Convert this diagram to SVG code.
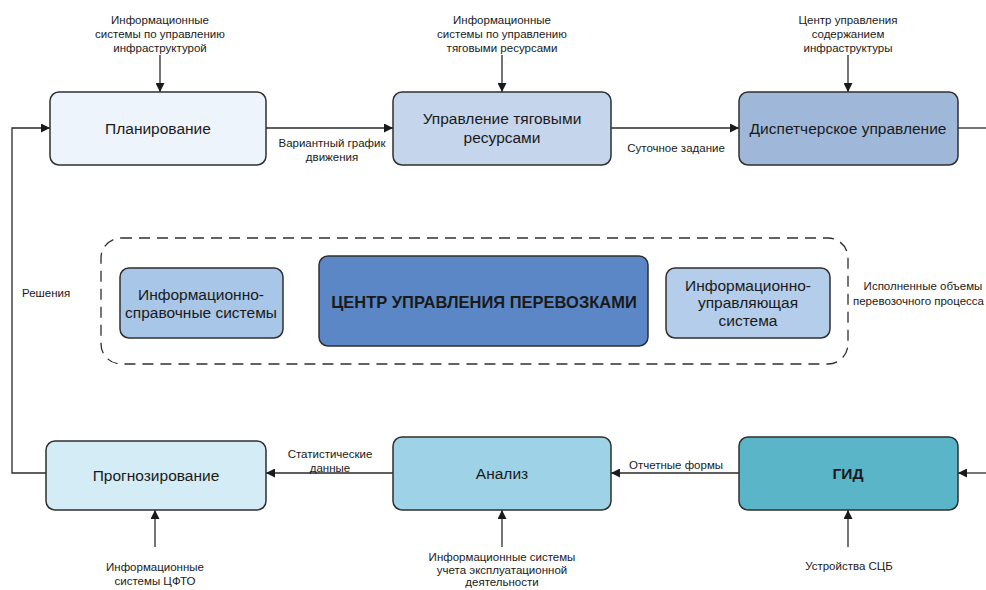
<svg xmlns="http://www.w3.org/2000/svg" width="986" height="590" viewBox="0 0 986 590">
  <style>
    .box { stroke: #2f2f2f; stroke-width: 1.5; }
    .t { font-family: "Liberation Sans", Arial, sans-serif; fill: #1a1a1a; text-anchor: middle; }
    .big { font-size: 15.5px; }
    .bold { font-size: 16.5px; font-weight: bold; }
    .sm { font-size: 11.5px; }
    .ln { stroke: #2a2a2a; stroke-width: 1.3; fill: none; }
    .arr { marker-end: url(#ah); }
  </style>
  <defs>
    <marker id="ah" viewBox="0 0 10 10" refX="10" refY="5" markerWidth="9" markerHeight="9" markerUnits="userSpaceOnUse" orient="auto">
      <path d="M0,0 L10,5 L0,10 z" fill="#1a1a1a"/>
    </marker>
  </defs>
  <rect width="986" height="590" fill="#ffffff"/>

  <!-- dashed frame around the control centre -->
  <rect x="101" y="238" width="747" height="126" rx="20" fill="none" stroke="#2f2f2f" stroke-width="1.3" stroke-dasharray="11 7"/>

  <!-- connectors -->
  <g id="connectors">
    <!-- inputs from above -->
    <line class="ln arr" x1="160" y1="55" x2="160" y2="92"/>
    <line class="ln arr" x1="502" y1="55" x2="502" y2="92"/>
    <line class="ln arr" x1="848" y1="55" x2="848" y2="92"/>
    <!-- top chain -->
    <line class="ln arr" x1="266" y1="128" x2="393" y2="128"/>
    <line class="ln arr" x1="611" y1="128" x2="739" y2="128"/>
    <line class="ln" x1="958" y1="128" x2="986" y2="128"/>
    <!-- bottom chain -->
    <line class="ln arr" x1="986" y1="473" x2="958" y2="473"/>
    <line class="ln arr" x1="739" y1="473" x2="611" y2="473"/>
    <line class="ln arr" x1="393" y1="473" x2="266" y2="473"/>
    <!-- feedback loop -->
    <polyline class="ln arr" points="46,473 12,473 12,128 50,128"/>
    <!-- inputs from below -->
    <line class="ln arr" x1="155" y1="547" x2="155" y2="510"/>
    <line class="ln arr" x1="502" y1="547" x2="502" y2="510"/>
    <line class="ln arr" x1="848" y1="547" x2="848" y2="510"/>
  </g>

  <!-- connector labels -->
  <g id="labels" class="t sm">
    <text x="160" y="24">Информационные</text>
    <text x="160" y="38">системы по управлению</text>
    <text x="160" y="52">инфраструктурой</text>

    <text x="502" y="24">Информационные</text>
    <text x="502" y="38">системы по управлению</text>
    <text x="502" y="52">тяговыми ресурсами</text>

    <text x="848" y="24">Центр управления</text>
    <text x="848" y="38">содержанием</text>
    <text x="848" y="52">инфраструктуры</text>

    <text x="332" y="147">Вариантный график</text>
    <text x="332" y="161">движения</text>
    <text x="676" y="152">Суточное задание</text>

    <text x="22" y="297" style="text-anchor:start">Решения</text>
    <text x="923" y="290">Исполненные объемы</text>
    <text x="984" y="305" style="text-anchor:end">перевозочного процесса</text>

    <text x="330" y="458">Статистические</text>
    <text x="330" y="472">данные</text>
    <text x="676" y="469">Отчетные формы</text>

    <text x="155" y="571">Информационные</text>
    <text x="155" y="585">системы ЦФТО</text>
    <text x="502" y="561">Информационные системы</text>
    <text x="502" y="574">учета эксплуатационной</text>
    <text x="502" y="586">деятельности</text>
    <text x="849" y="570">Устройства СЦБ</text>
  </g>

  <!-- nodes -->
  <g id="planning">
    <rect class="box" x="50" y="92" width="216" height="73" rx="9" fill="#eef4fb"/>
    <text class="t big" x="158" y="134">Планирование</text>
  </g>
  <g id="traction">
    <rect class="box" x="393" y="92" width="218" height="73" rx="9" fill="#c5d5eb"/>
    <text class="t big" x="502" y="124">Управление тяговыми</text>
    <text class="t big" x="502" y="143">ресурсами</text>
  </g>
  <g id="dispatch">
    <rect class="box" x="739" y="92" width="219" height="73" rx="9" fill="#9fb8da"/>
    <text class="t big" x="848" y="134">Диспетчерское управление</text>
  </g>
  <g id="reference-systems">
    <rect class="box" x="120" y="268" width="163" height="70" rx="9" fill="#a8c6e7"/>
    <text class="t big" x="201" y="300">Информационно-</text>
    <text class="t big" x="201" y="318">справочные системы</text>
  </g>
  <g id="control-centre">
    <rect class="box" x="319" y="256" width="329" height="90" rx="9" fill="#5b87c6"/>
    <text class="t bold" x="484" y="308">ЦЕНТР УПРАВЛЕНИЯ ПЕРЕВОЗКАМИ</text>
  </g>
  <g id="management-system">
    <rect class="box" x="666" y="268" width="164" height="70" rx="9" fill="#b3cdea"/>
    <text class="t big" x="748" y="291">Информационно-</text>
    <text class="t big" x="748" y="308">управляющая</text>
    <text class="t big" x="748" y="326">система</text>
  </g>
  <g id="forecasting">
    <rect class="box" x="46" y="441" width="220" height="69" rx="9" fill="#d3ecf6"/>
    <text class="t big" x="156" y="481">Прогнозирование</text>
  </g>
  <g id="analysis">
    <rect class="box" x="393" y="437" width="218" height="73" rx="9" fill="#9ed3e7"/>
    <text class="t big" x="502" y="479">Анализ</text>
  </g>
  <g id="gid">
    <rect class="box" x="739" y="437" width="219" height="73" rx="9" fill="#5ab5c9"/>
    <text class="t bold" x="848" y="479" style="font-size:15.5px">ГИД</text>
  </g>
</svg>
